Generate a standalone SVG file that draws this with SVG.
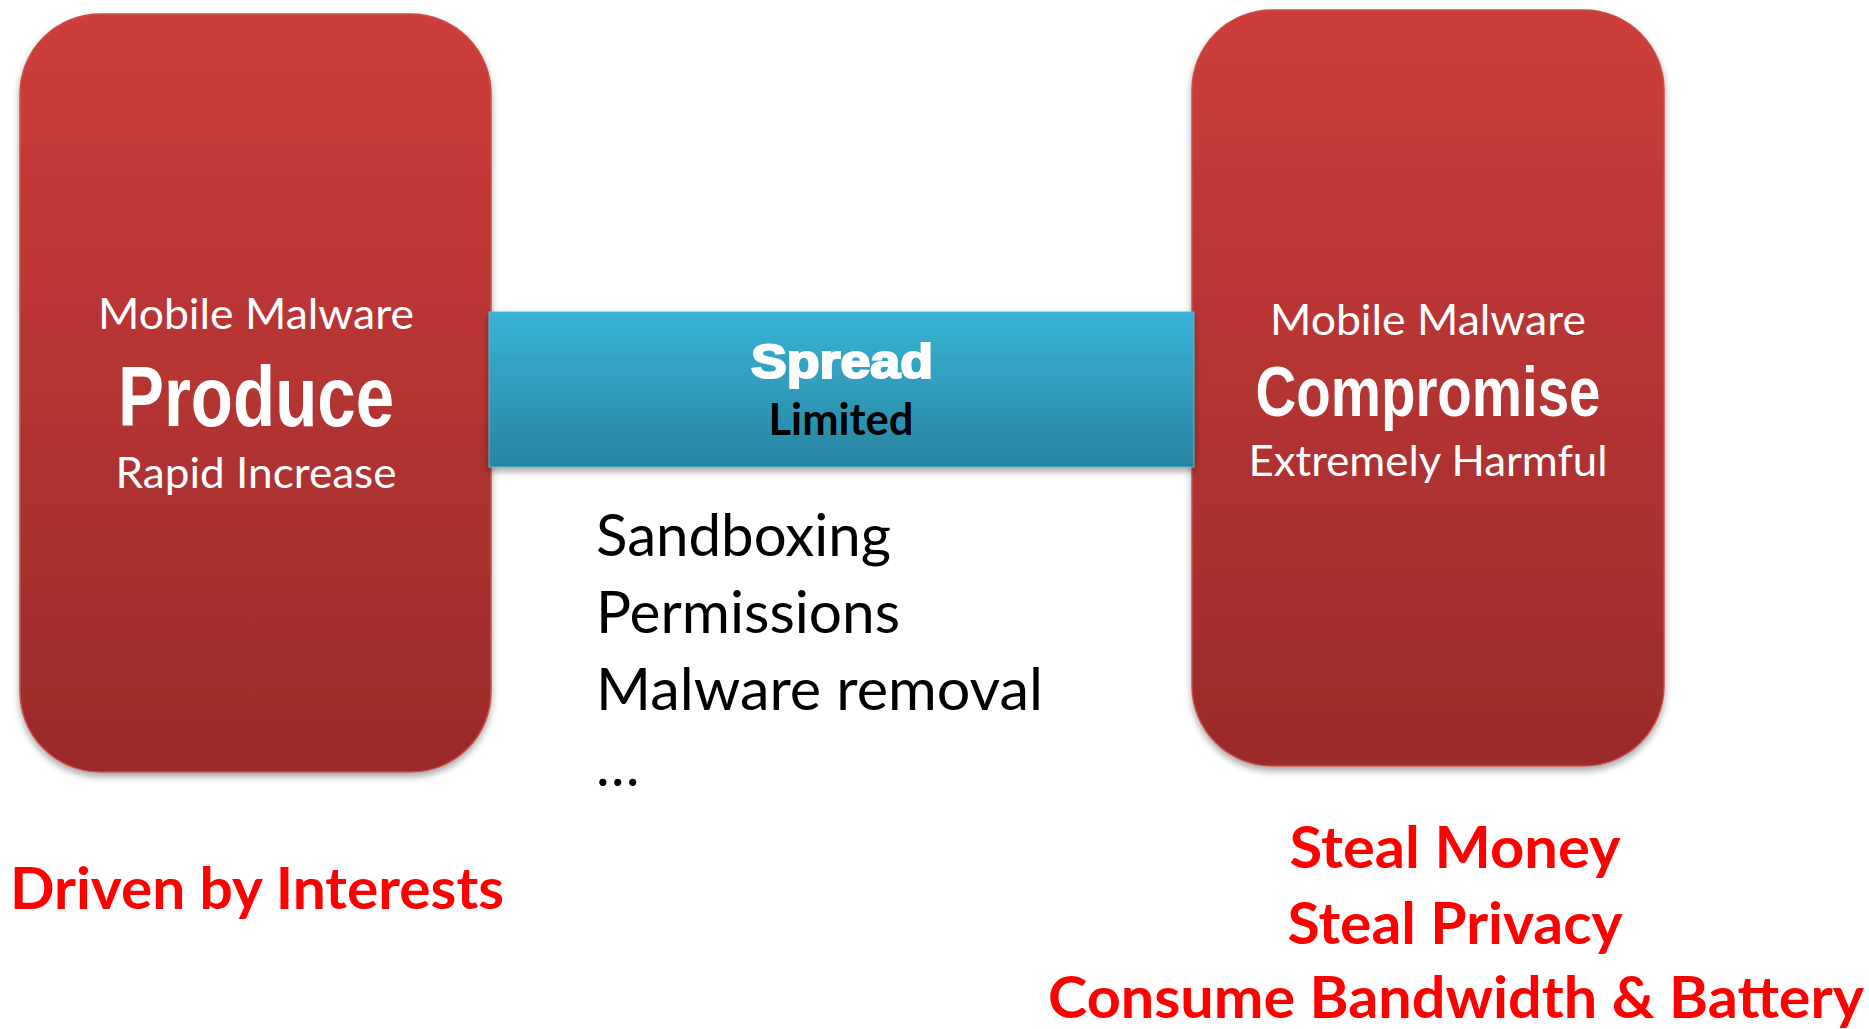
<svg xmlns="http://www.w3.org/2000/svg" width="1869" height="1029" viewBox="0 0 1869 1029">
  <defs>
    <linearGradient id="redFill" x1="0" y1="0" x2="0" y2="1">
      <stop offset="0" stop-color="#cd3d3a"/>
      <stop offset="1" stop-color="#9b2b2b"/>
    </linearGradient>
    <linearGradient id="blueFill" x1="0" y1="0" x2="0" y2="1">
      <stop offset="0" stop-color="#38b3d6"/>
      <stop offset="1" stop-color="#2885a0"/>
    </linearGradient>
    <filter id="shadow" x="-10%" y="-10%" width="120%" height="125%">
      <feDropShadow dx="0" dy="4" stdDeviation="3.5" flood-color="#000" flood-opacity="0.35"/>
    </filter>
    <style>
      .box { fill: url(#redFill); stroke: #c9504b; stroke-width: 1.5; filter: url(#shadow); }
      .bar { fill: url(#blueFill); stroke: #4bb9d8; stroke-width: 1; filter: url(#shadow); }
      .sub { font-family: Lato, "Noto Sans", sans-serif; font-size: 43px; fill: #ffffff; text-anchor: middle; }
      .title { font-family: "Liberation Sans Narrow", "Liberation Sans", Arial, sans-serif; font-weight: bold; fill: #ffffff; text-anchor: middle; }
      .heavy { font-family: "Liberation Sans", Arial, sans-serif; font-weight: 900; fill: #ffffff; stroke: #ffffff; stroke-width: 2.2; text-anchor: middle; }
      .dark { font-family: Lato, "Noto Sans", sans-serif; font-weight: bold; font-size: 43px; fill: #000000; text-anchor: middle; }
      .item { font-family: Lato, "Noto Sans", sans-serif; font-size: 58px; fill: #000000; }
      .note { font-family: Lato, "Noto Sans", sans-serif; font-weight: bold; font-size: 58px; fill: #ff0000; }
    </style>
  </defs>

  <rect width="1869" height="1029" fill="#ffffff"/>

  <!-- left stage -->
  <g id="produce">
    <rect class="box" x="20" y="14" width="471" height="758" rx="80" ry="80"/>
    <text class="sub" x="256" y="329" textLength="316" lengthAdjust="spacingAndGlyphs">Mobile Malware</text>
    <text class="title" x="256" y="426" font-size="85" textLength="276" lengthAdjust="spacingAndGlyphs">Produce</text>
    <text class="sub" x="256" y="488" textLength="281" lengthAdjust="spacingAndGlyphs">Rapid Increase</text>
  </g>

  <!-- right stage -->
  <g id="compromise">
    <rect class="box" x="1192" y="10" width="472" height="756" rx="80" ry="80"/>
    <text class="sub" x="1428" y="335" textLength="316" lengthAdjust="spacingAndGlyphs">Mobile Malware</text>
    <text class="title" x="1428" y="416" font-size="71" textLength="345" lengthAdjust="spacingAndGlyphs">Compromise</text>
    <text class="sub" x="1428" y="476" textLength="359" lengthAdjust="spacingAndGlyphs">Extremely Harmful</text>
  </g>

  <!-- bridge between the stages -->
  <g id="spread">
    <rect class="bar" x="489" y="312" width="705" height="155"/>
    <text class="heavy" x="842" y="378" font-size="49" textLength="182" lengthAdjust="spacingAndGlyphs">Spread</text>
    <text class="dark" x="841" y="435" textLength="145" lengthAdjust="spacingAndGlyphs">Limited</text>
  </g>

  <g id="connectors"/>

  <!-- defences that limit spreading -->
  <g id="defenses">
    <text class="item" x="596" y="556" textLength="295" lengthAdjust="spacingAndGlyphs">Sandboxing</text>
    <text class="item" x="596" y="633" textLength="304" lengthAdjust="spacingAndGlyphs">Permissions</text>
    <text class="item" x="596" y="710" textLength="447" lengthAdjust="spacingAndGlyphs">Malware removal</text>
    <text class="item" x="596" y="786">…</text>
  </g>

  <!-- motivation and effects -->
  <g id="motivation">
    <text class="note" x="10" y="909" textLength="494" lengthAdjust="spacingAndGlyphs">Driven by Interests</text>
  </g>
  <g id="effects">
    <text class="note" x="1455" y="868" text-anchor="middle" textLength="331" lengthAdjust="spacingAndGlyphs">Steal Money</text>
    <text class="note" x="1455" y="944" text-anchor="middle" textLength="335" lengthAdjust="spacingAndGlyphs">Steal Privacy</text>
    <text class="note" x="1456" y="1018" text-anchor="middle" textLength="816" lengthAdjust="spacingAndGlyphs">Consume Bandwidth &amp; Battery</text>
  </g>
</svg>
